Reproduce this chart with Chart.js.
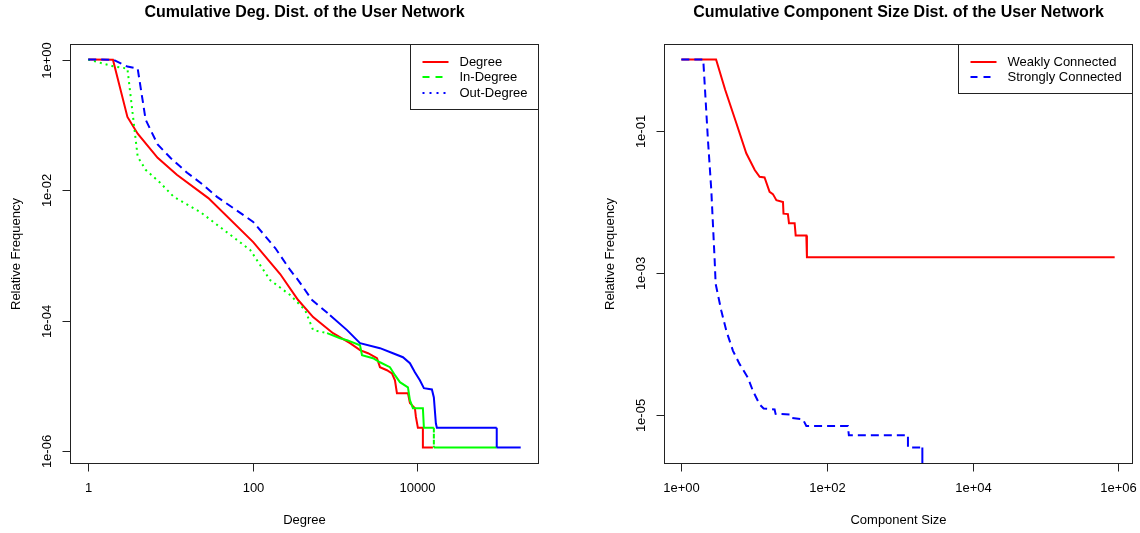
<!DOCTYPE html>
<html>
<head>
<meta charset="utf-8">
<script src="https://cdn.jsdelivr.net/npm/chart.js@4.4.0/dist/chart.umd.min.js"></script>
<style>
  html, body { margin: 0; padding: 0; background: #fff; }
  body { width: 1140px; height: 533px; position: relative; overflow: hidden; }
  .panel { position: absolute; top: 0; width: 570px; height: 533px; }
  #left { left: 0; }
  #right { left: 570px; }
</style>
</head>
<body>
<div class="panel" id="left"><canvas id="degChart" width="570" height="533"></canvas></div>
<div class="panel" id="right"><canvas id="compChart" width="570" height="533"></canvas></div>
<script>
// ---- Left panel: cumulative degree distribution ----
const degreeX = [1, 2, 3, 4, 7, 12, 29, 102, 217, 359, 547, 956, 1538, 2035, 2546, 3275, 3562, 4331, 4982, 5420, 5730, 7800, 8245, 9480, 9750, 10310, 11860, 11860, 15700];
const degreeY = [1, 0.99, 0.132, 0.0732, 0.0313, 0.0172, 0.00755, 0.0016, 5.2e-4, 2.08e-4, 1.14e-4, 6.47e-5, 4.55e-5, 3.55e-5, 3.19e-5, 2.68e-5, 1.95e-5, 1.75e-5, 1.57e-5, 1.23e-5, 7.8e-6, 7.8e-6, 5.5e-6, 4.6e-6, 3.4e-6, 2.3e-6, 2.3e-6, 1.15e-6, 1.15e-6];

const inDegreeX = [1, 2, 3, 4, 5, 7.5, 11, 23, 94, 164, 287, 380, 437, 547, 809, 1163, 1415, 2035, 2153, 2930, 3562, 4710, 5420, 6230, 7800, 8245, 8970, 11860, 12200, 16130, 16130, 94000];
const inDegreeY = [1, 0.79, 0.727, 0.0325, 0.0205, 0.013, 0.0079, 0.00465, 0.00121, 4.2e-4, 2.48e-4, 1.74e-4, 1.46e-4, 7.2e-5, 6.47e-5, 5.42e-5, 5.05e-5, 4.23e-5, 2.97e-5, 2.68e-5, 2.32e-5, 1.95e-5, 1.47e-5, 1.15e-5, 9.6e-6, 6.1e-6, 4.6e-6, 4.6e-6, 2.3e-6, 2.3e-6, 1.15e-6, 1.15e-6];

const outDegreeX = [1, 2, 3, 4, 5, 7, 10, 16, 25, 37, 102, 189, 287, 359, 531, 879, 1415, 2035, 3562, 5125, 6780, 8245, 9480, 10900, 12200, 15270, 16130, 17060, 17550, 94000, 94000, 184000];
const outDegreeY = [1, 0.995, 0.781, 0.727, 0.12, 0.05, 0.0313, 0.0185, 0.0121, 0.0079, 0.00327, 0.0013, 6.0e-4, 4.2e-4, 2.08e-4, 1.22e-4, 7.2e-5, 4.55e-5, 3.81e-5, 3.19e-5, 2.77e-5, 2.24e-5, 1.63e-5, 1.23e-5, 9.3e-6, 8.9e-6, 6.7e-6, 2.7e-6, 2.3e-6, 2.3e-6, 1.15e-6, 1.15e-6];

const degTicks = [1, 100, 10000];
const degTickLabels = ["1", "100", "10000"];
const degFreqTicks = [1, 1e-2, 1e-4, 1e-6];
const degFreqTickLabels = ["1e+00", "1e-02", "1e-04", "1e-06"];

// ---- Right panel: cumulative component size distribution ----
const weakX = [1, 3, 4, 5.7, 7.8, 10.2, 11.9, 13.9, 16.3, 18.1, 20.2, 24.9, 25.3, 29.1, 30.1, 36, 37.2, 52.1, 53.1, 895000];
const weakY = [1, 1, 0.376, 0.127, 0.048, 0.0279, 0.0224, 0.022, 0.01375, 0.0128, 0.0105, 0.0099, 0.0068, 0.0067, 0.005, 0.005, 0.00336, 0.00336, 0.00166, 0.00166];

const strongX = [1, 2, 2.32, 2.58, 2.87, 2.96, 3.54, 4.15, 5.12, 6.32, 8.22, 9.63, 11.9, 13.5, 19.1, 19.7, 30.7, 32.4, 46.8, 52.1, 194, 200, 1296, 1296, 2044, 2044];
const strongY = [1, 1, 0.074, 0.0145, 0.0015, 7.0e-4, 2.93e-4, 1.53e-4, 8.0e-5, 5.2e-5, 3.35e-5, 2.18e-5, 1.41e-5, 1.24e-5, 1.2e-5, 1.04e-5, 1.02e-5, 9.1e-6, 8.7e-6, 7.0e-6, 7.0e-6, 5.2e-6, 5.2e-6, 3.5e-6, 3.5e-6, 0];

const sizeTicks = [1, 100, 1e4, 1e6];
const sizeTickLabels = ["1e+00", "1e+02", "1e+04", "1e+06"];
const compFreqTicks = [1e-1, 1e-3, 1e-5];
const compFreqTickLabels = ["1e-01", "1e-03", "1e-05"];

const FONT = '"Liberation Sans", Arial, Helvetica, sans-serif';
const DASHED = [8, 5];
const DOTTED = [2, 4];

// log axis range the way R does it: data range plus 4% each side
function rRange(values) {
    const logs = values.filter(v => v > 0).map(v => Math.log10(v));
    const lo = Math.min(...logs), hi = Math.max(...logs);
    const pad = (hi - lo) * 0.04;
    return { min: Math.pow(10, lo - pad), max: Math.pow(10, hi + pad) };
}

function toPoints(xs, ys, floor) {
    return xs.map((x, i) => ({ x: x, y: ys[i] > 0 ? ys[i] : floor }));
}

// dash only where R's dash pattern showed (long segments), solid on the dense tail
function dashUntil(pattern, limit) {
    return ctx => {
        const d = ctx.chart.data.datasets[ctx.datasetIndex].data;
        const a = d[ctx.p0DataIndex], b = d[ctx.p1DataIndex];
        if (a.x < limit || a.x === b.x) return pattern;
        return [];
    };
}

function lineSet(label, data, color, order, dash) {
    const set = {
        label: label,
        data: data,
        borderColor: color,
        backgroundColor: color,
        borderWidth: 2,
        borderDash: [],
        pointRadius: 0,
        tension: 0,
        fill: false,
        order: order
    };
    if (dash) set.segment = { borderDash: dash };
    return set;
}

// R style box, axes, titles and legend
const rFrame = {
    id: 'rFrame',
    afterDraw(chart, args, opts) {
        const ctx = chart.ctx;
        const area = chart.chartArea;
        const xs = chart.scales.x, ys = chart.scales.y;
        const L = Math.round(area.left) + 0.5, R = Math.round(area.right) + 0.5;
        const T = Math.round(area.top) + 0.5, B = Math.round(area.bottom) + 0.5;

        ctx.save();
        ctx.setLineDash([]);
        ctx.lineWidth = 1;
        ctx.strokeStyle = '#222';
        ctx.strokeRect(L, T, R - L, B - T);

        ctx.fillStyle = '#000';
        ctx.font = '13px ' + FONT;
        ctx.textAlign = 'center';
        ctx.textBaseline = 'middle';

        opts.xTicks.forEach((v, i) => {
            const px = Math.round(xs.getPixelForValue(v)) + 0.5;
            ctx.beginPath(); ctx.moveTo(px, B); ctx.lineTo(px, B + 8); ctx.stroke();
            ctx.fillText(opts.xLabels[i], px, B + 25);
        });
        opts.yTicks.forEach((v, i) => {
            const py = Math.round(ys.getPixelForValue(v)) + 0.5;
            ctx.beginPath(); ctx.moveTo(L - 8, py); ctx.lineTo(L, py); ctx.stroke();
            ctx.save();
            ctx.translate(L - 23, py);
            ctx.rotate(-Math.PI / 2);
            ctx.fillText(opts.yLabels[i], 0, 0);
            ctx.restore();
        });

        const cx = (L + R) / 2, cy = (T + B) / 2;
        ctx.fillText(opts.xTitle, cx, B + 57);
        ctx.save();
        ctx.translate(L - 54, cy);
        ctx.rotate(-Math.PI / 2);
        ctx.fillText(opts.yTitle, 0, 0);
        ctx.restore();

        ctx.font = 'bold 16px ' + FONT;
        ctx.fillText(opts.title, cx, 13);

        // legend, top right corner of the plot box
        ctx.font = '13px ' + FONT;
        const sets = chart.data.datasets;
        const textW = Math.max(...sets.map(s => ctx.measureText(s.label).width));
        const w = Math.round(12 + 26 + 11 + textW + 11);
        const h = Math.round(17 + (sets.length - 1) * 15.5 + 16.5);
        const lx = R - w;
        ctx.fillStyle = '#fff';
        ctx.fillRect(lx, T, w, h);
        ctx.strokeRect(lx, T, w, h);
        ctx.textAlign = 'left';
        sets.forEach((s, i) => {
            const y = Math.round(T + 17 + i * 15.5);
            ctx.save();
            ctx.strokeStyle = s.borderColor;
            ctx.lineWidth = 2;
            ctx.setLineDash(opts.legendDash[i]);
            ctx.beginPath(); ctx.moveTo(lx + 12, y); ctx.lineTo(lx + 38, y); ctx.stroke();
            ctx.restore();
            ctx.fillStyle = '#000';
            ctx.fillText(s.label, lx + 49, y);
        });
        ctx.restore();
    }
};

function baseOptions(xr, yr, padding, frame) {
    return {
        responsive: false,
        animation: false,
        layout: { padding: padding },
        scales: {
            x: { type: 'logarithmic', min: xr.min, max: xr.max, display: false },
            y: { type: 'logarithmic', min: yr.min, max: yr.max, display: false }
        },
        plugins: {
            legend: { display: false },
            tooltip: { enabled: false },
            rFrame: frame
        }
    };
}

// Left chart
const degXR = rRange(degreeX.concat(inDegreeX, outDegreeX));
const degYR = rRange(degreeY.concat(inDegreeY, outDegreeY));

new Chart(document.getElementById('degChart'), {
    type: 'line',
    data: {
        datasets: [
            lineSet('Degree', toPoints(degreeX, degreeY), '#ff0000', 3, null),
            lineSet('In-Degree', toPoints(inDegreeX, inDegreeY), '#00ff00', 2, dashUntil(DOTTED, 600)),
            lineSet('Out-Degree', toPoints(outDegreeX, outDegreeY), '#0000ff', 1, dashUntil(DASHED, 550))
        ]
    },
    options: baseOptions(degXR, degYR, { left: 70, top: 44, right: 32, bottom: 70 }, {
        title: 'Cumulative Deg. Dist. of the User Network',
        xTitle: 'Degree',
        yTitle: 'Relative Frequency',
        xTicks: degTicks, xLabels: degTickLabels,
        yTicks: degFreqTicks, yLabels: degFreqTickLabels,
        legendDash: [[], [7, 6], [2, 5]]
    }),
    plugins: [rFrame]
});

// Right chart
const compXR = rRange(weakX.concat(strongX));
const compYR = rRange(weakY.concat(strongY));

new Chart(document.getElementById('compChart'), {
    type: 'line',
    data: {
        datasets: [
            lineSet('Weakly Connected', toPoints(weakX, weakY), '#ff0000', 2, null),
            lineSet('Strongly Connected', toPoints(strongX, strongY, compYR.min / 10), '#0000ff', 1, dashUntil(DASHED, Infinity))
        ]
    },
    options: baseOptions(compXR, compYR, { left: 94, top: 44, right: 8, bottom: 70 }, {
        title: 'Cumulative Component Size Dist. of the User Network',
        xTitle: 'Component Size',
        yTitle: 'Relative Frequency',
        xTicks: sizeTicks, xLabels: sizeTickLabels,
        yTicks: compFreqTicks, yLabels: compFreqTickLabels,
        legendDash: [[], [7, 6]]
    }),
    plugins: [rFrame]
});
</script>
</body>
</html>
